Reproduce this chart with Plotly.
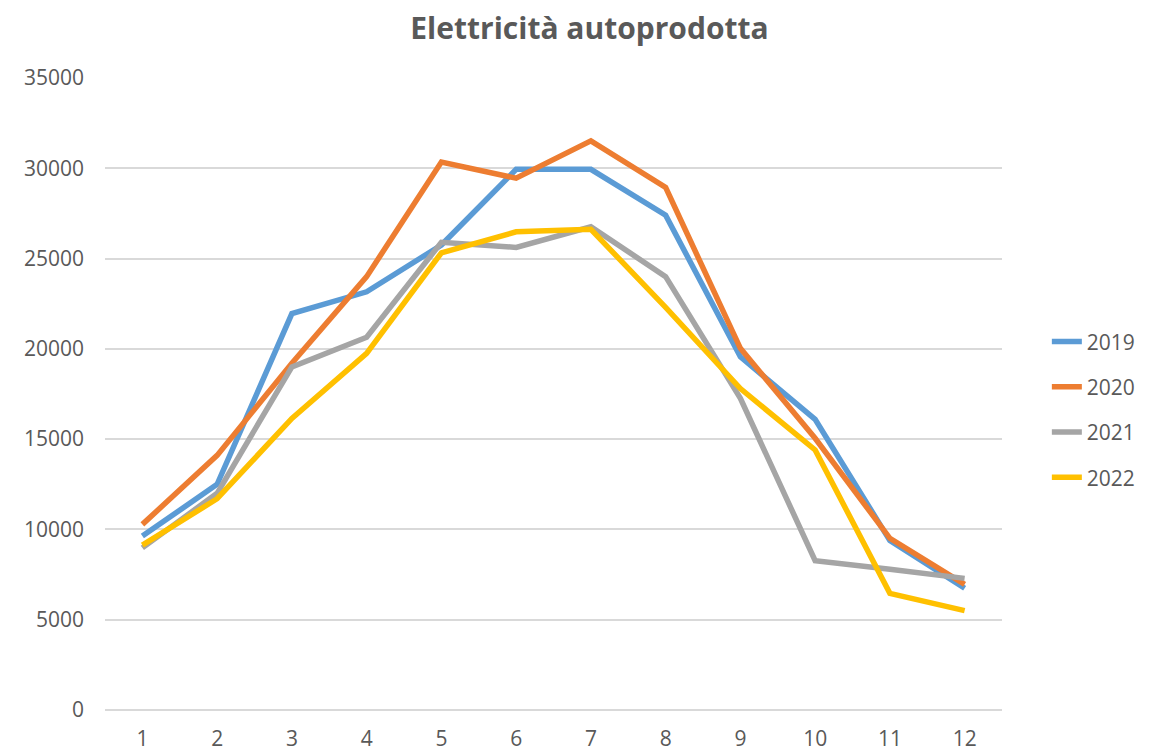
import plotly.graph_objects as go

months = [1, 2, 3, 4, 5, 6, 7, 8, 9, 10, 11, 12]
y2019 = [9630, 12500, 21950, 23160, 25750, 29940, 29940, 27400, 19560, 16100, 9380, 6740]
y2020 = [10280, 14100, 19200, 24000, 30350, 29450, 31520, 28940, 20030, 15050, 9510, 6960]
y2021 = [8980, 12000, 19000, 20640, 25900, 25620, 26760, 24000, 17260, 8270, 7790, 7290]
y2022 = [9130, 11700, 16150, 19750, 25320, 26480, 26620, 22300, 17800, 14400, 6460, 5500]

series = {"2019": y2019, "2020": y2020, "2021": y2021, "2022": y2022}
colors = {"2019": "#5B9BD5", "2020": "#ED7D31", "2021": "#A5A5A5", "2022": "#FFC000"}

fig = go.Figure()
for name, vals in series.items():
    fig.add_trace(go.Scatter(x=months, y=vals, name=name, mode="lines",
                             legendgroup=name,
                             line=dict(color=colors[name], width=5.5)))

txt = "#595959"
# page body has an 8px margin, so the figure is 8px smaller and margins shifted
fig.update_layout(
    width=1163, height=743,
    paper_bgcolor="white", plot_bgcolor="white",
    margin=dict(l=97, r=169, t=70, b=41, autoexpand=False),
    font=dict(family="Open Sans", size=21, color=txt),
    title=dict(text="<b>Elettricità autoprodotta</b>", x=0.5, xanchor="center",
               y=0.972, yanchor="middle", font=dict(size=30, color=txt)),
    legend=dict(x=1.05, xanchor="left", y=0.475, yanchor="middle",
                tracegroupgap=15, font=dict(size=21, color=txt)),
    showlegend=True,
)
fig.update_xaxes(tickvals=months, range=[0.5, 12.5], showgrid=False, automargin=False,
                 showline=False, zeroline=False, ticks="", ticklabelstandoff=14)
fig.update_yaxes(range=[0, 35000], dtick=5000, showgrid=True, gridcolor="#D9D9D9",
                 gridwidth=1.5, zeroline=True, zerolinecolor="#D9D9D9", zerolinewidth=1.5,
                 ticks="", ticklabelstandoff=20, tickformat="d", automargin=False)

fig.write_html("out.html")
